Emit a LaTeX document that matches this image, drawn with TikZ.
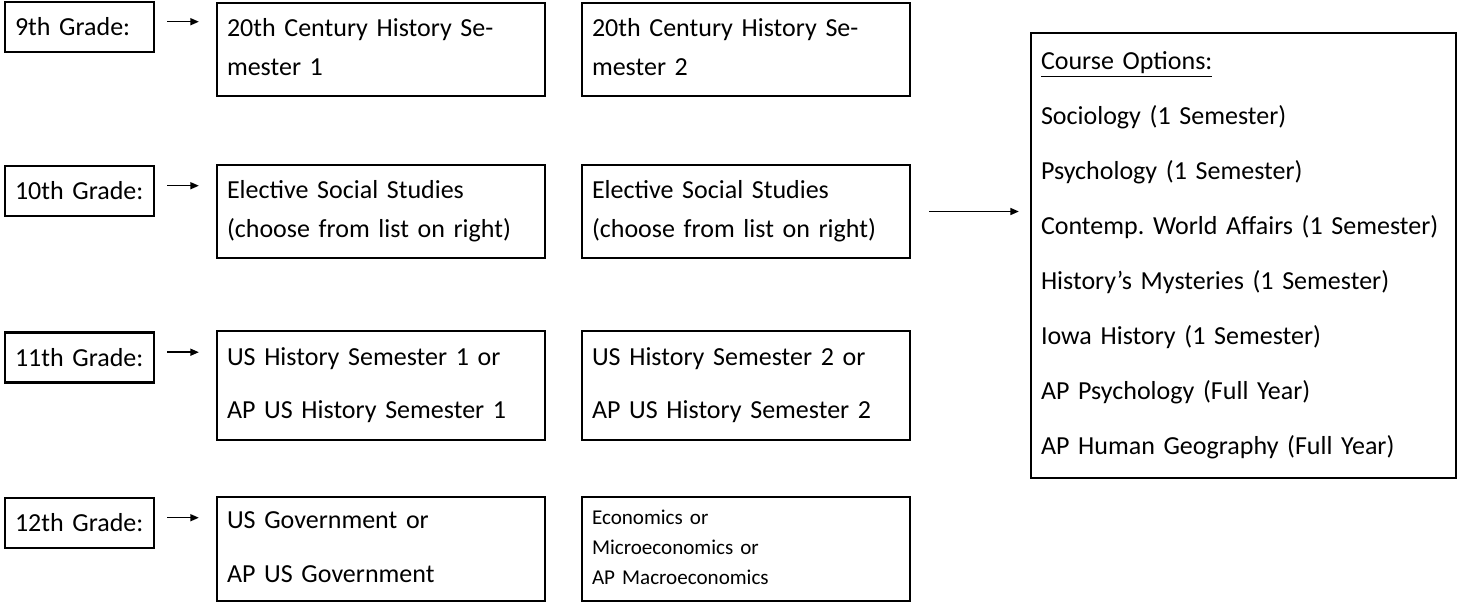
\documentclass[tikz,border=0pt]{standalone}
\usepackage{fontspec}
\setmainfont{Carlito}
\usetikzlibrary{arrows.meta}
\newcommand{\linestrut}{\vrule height 0.75em depth 0.25em width 0pt}
\frenchspacing

\begin{document}
\begin{tikzpicture}[line width=1.3pt,
  gradebox/.style={draw,align=left,text width=2.58cm,inner xsep=0.2cm,minimum height=1cm,font=\fontsize{14.8pt}{17pt}\selectfont},
  coursebox/.style={draw,align=left,text width=6.16cm,inner xsep=0.2cm,execute at begin node=\linestrut,execute at end node=\linestrut},
  rowtight/.style={font=\fontsize{14.8pt}{22.1pt}\selectfont},
  rowwide/.style={font=\fontsize{14.8pt}{30.7pt}\selectfont},
  smalltext/.style={font=\fontsize{12pt}{17.07pt}\selectfont},
  gradearrow/.style={-{Triangle[length=0.17cm,width=0.14cm]},line width=0.85pt,shorten <=0.24cm,shorten >=0.34cm}]

\useasboundingbox (0,0) rectangle (29.2,-12.06);

% 9th grade
\node[gradebox] (Grade9) at (1.59,-0.54) {9th Grade:};
\node[coursebox,rowtight,minimum height=1.86cm] (HistoryA) at (7.62,-0.99) {20th Century History Se-\\mester 1};
\node[coursebox,rowtight,minimum height=1.86cm] (HistoryB) at (14.92,-0.99) {20th Century History Se-\\mester 2};

% 10th grade
\node[gradebox] (Grade10) at (1.59,-3.82) {10th Grade:};
\node[coursebox,rowtight,minimum height=1.86cm] (ElectiveA) at (7.62,-4.23) {Elective Social Studies\\(choose from list on right)};
\node[coursebox,rowtight,minimum height=1.86cm] (ElectiveB) at (14.92,-4.23) {Elective Social Studies\\(choose from list on right)};

% 11th grade
\node[gradebox] (Grade11) at (1.59,-7.15) {11th Grade:};
\node[coursebox,rowwide,minimum height=2.18cm] (USHistA) at (7.62,-7.71) {US History Semester 1 or\\AP US History Semester 1};
\node[coursebox,rowwide,minimum height=2.18cm] (USHistB) at (14.92,-7.71) {US History Semester 2 or\\AP US History Semester 2};

% 12th grade
\node[gradebox] (Grade12) at (1.59,-10.46) {12th Grade:};
\node[coursebox,rowwide,minimum height=2.08cm] (Government) at (7.62,-10.98) {US Government or\\AP US Government};
\node[coursebox,smalltext,minimum height=2.08cm] (Economics) at (14.92,-10.98) {Economics or\\Microeconomics or\\AP Macroeconomics};

% options
\node[coursebox,font=\fontsize{14.8pt}{31.3pt}\selectfont,text width=8.1cm,minimum height=8.9cm] (Options) at (24.87,-5.11) {\underline{Course Options:}\\Sociology (1 Semester)\\Psychology (1 Semester)\\Contemp. World Affairs (1 Semester)\\History’s Mysteries (1 Semester)\\Iowa History (1 Semester)\\AP Psychology (Full Year)\\AP Human Geography (Full Year)};

\draw[gradearrow] (Grade9.4) -- (Grade9.4 -| HistoryA.west);
\draw[gradearrow] (Grade10.4) -- (Grade10.4 -| ElectiveA.west);
\draw[gradearrow] (Grade11.4) -- (Grade11.4 -| USHistA.west);
\draw[gradearrow] (Grade12.4) -- (Grade12.4 -| Government.west);
\draw[gradearrow,shorten <=0.36cm,shorten >=0.22cm] (ElectiveB.east) -- (ElectiveB.east -| Options.west);

\end{tikzpicture}
\end{document}
